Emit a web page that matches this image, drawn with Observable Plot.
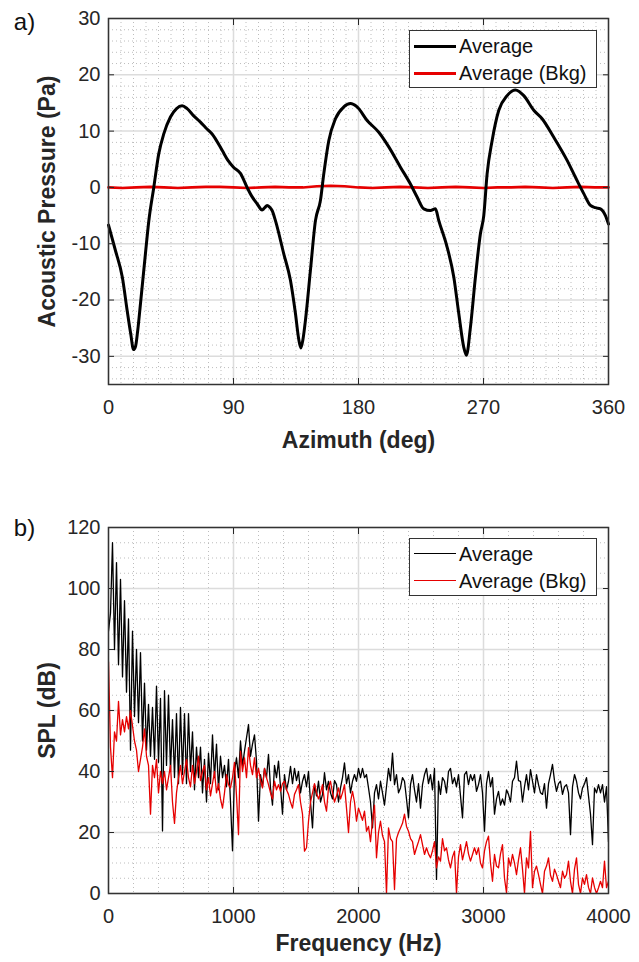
<!DOCTYPE html>
<html><head><meta charset="utf-8">
<script src="https://cdn.jsdelivr.net/npm/d3@7"></script>
<script src="https://cdn.jsdelivr.net/npm/@observablehq/plot@0.6"></script>
<style>
body{margin:0;background:#fff;font-family:"Liberation Sans",Arial,sans-serif;}
#wrap{position:relative;width:639px;height:962px;overflow:hidden;}
.panel{position:absolute;left:0;}
.panel svg{display:block;}
.legend{position:absolute;border:1.5px solid #333;background:#fff;box-sizing:border-box;font-size:20px;color:#111;}
.legend .row{position:absolute;left:0;height:27px;line-height:27px;white-space:nowrap;}
.legend .sw{position:absolute;left:4px;top:13px;width:42px;}
.legend .lab{position:absolute;left:49px;top:0;}
</style></head><body>
<div id="wrap">
  <div class="panel" id="pa" style="top:0"></div>
  <div class="panel" id="pb" style="top:470px"></div>
</div>
<script>
// ---------- Panel a) : acoustic pressure vs azimuth ----------
const azimuthAvg = [0,5,10,13.4,16,18,19.5,21,23,26.5,29,32.6,36.2,39.8,44.6,49,53,56.6,61,66.2,70,74.6,81.8,86,90,95,99.8,103,107,110.6,112.5,114.2,116,117.8,120.2,126.2,131,134.6,137,138.5,140,141.8,145.4,149,152.6,155,158.6,163.4,169.4,174.2,179,186.2,194.6,201.8,210.2,217.4,222.2,227,231.8,235.4,237.8,243.8,248.6,252.2,255.8,257.7,260.6,264.2,267.8,270.2,272.6,276.2,281,287,293,299,306.2,312.2,320.6,330.2,337.4,342.2,347,350.6,354.2,357.8,360];
const pressureAvg = [-6.7,-11.2,-16,-21.8,-26,-28.8,-28.2,-25.5,-20.7,-12,-6,0,6,9.5,12.5,14,14.5,14,12.8,11.6,10.6,9.5,6.6,4.8,3.6,2.5,0,-1.5,-2.9,-4,-3.6,-3.2,-3.5,-4.1,-5.9,-11.8,-16.5,-22.4,-27,-28.5,-27,-23.6,-14.7,-5.9,-2.3,2.4,8.3,12.2,14.3,14.9,14.3,11.9,9.8,7.2,3.6,0.6,-1.7,-3.8,-4.1,-3.8,-5.9,-10.6,-15.9,-22.4,-28.4,-29.8,-24.8,-15.9,-8.2,-5,2.4,8.3,13.7,16.3,17.3,16.3,13.7,12.2,8.9,4.8,1.2,-1.1,-3.2,-3.6,-3.8,-5,-6.5];
const azimuthBkg = [0,10,20,30,40,50,60,70,80,90,100,110,120,130,140,150,160,170,180,190,200,210,220,230,240,250,260,270,280,290,300,310,320,330,340,350,360];
const pressureBkg = [0,-0.1,0,0.1,0,-0.1,0,0.1,0.1,0,-0.1,0,0.1,0,0,0.2,0.3,0.2,0,-0.1,0,0.1,0,-0.1,0,0.1,0,-0.1,0,0,0.1,0,-0.1,0,0.1,0,0];
const azTicks = [0,90,180,270,360];
const azMinor = [9,18,27,36,45,54,63,72,81,99,108,117,126,135,144,153,162,171,189,198,207,216,225,234,243,252,261,279,288,297,306,315,324,333,342,351];
const pTicks = [-30,-20,-10,0,10,20,30];
const pMinor = [-34,-32,-28,-26,-24,-22,-18,-16,-14,-12,-8,-6,-4,-2,2,4,6,8,12,14,16,18,22,24,26,28];

// ---------- Panel b) : SPL spectrum ----------
const freqStep = 16; // Hz per bin
const splAvg = [
86,92,115,80,108.5,75,103,71,96,66,
90,47,86,58,80,56,79,50,69,47,
62,45,61,44,68,43,64,20.5,66.5,42,
65,40,57,38,59,36,61,39,59,36,
59,40,53,34,48,38,48,33,44,30,
46,36,52,38,49,34,45,38,42,35,
44,30,14,40,44.5,38,50,42,46.7,51,
55.4,45,49,52,43.4,23.7,39,35,41,38,
45.6,34.6,29,42,38,43.4,35,26,39,34,
36.8,41.7,36,41,37,40,33,36.8,39,35,
40,30,21.5,35.7,32,36.8,30,32.5,39.6,34,
36.8,33,31,37,35.7,30,34.6,38,42.8,36,
39,33,36.8,39,36.8,41,38,41,38,39,
34.6,30,21.5,33,35.7,31,36.8,33,29,35,
41,37,46,35.7,39,33,34.6,38,36.8,31,
24.8,35.7,39,34,30,36,28,35.7,39,41,
36,39,34,41,4.6,36.8,32.5,38,36.8,33,
40,41,36,38,35,39,32,24.8,39,40,
35.7,39,37,39,33.5,35.7,39,33,20.4,36,
40,35,38,26,31,33.5,29,31,29,34,
32.5,30,36.8,38,43.4,37,36.8,30,35,39,
34,40.6,36.8,33,39,35.7,33,32.5,36,28,
36,39,42.3,37,33.5,36,36.8,32.5,35,35.7,
33,19.3,35,39,36.8,33,31,34.6,36,38,
32,26,16,34.6,33,35.7,33,35.7,30,35,
17];
const splBkg = [
76,48,38,53,50,63,52,57,53,58,
54,60,55,50,47,40,44,48,54,45,
42,26,42,38,44,33,40,36,40,34,
38,42,30,23,33,38,42,36,40,44,
38,35,42,36,40,45,37,40,42,34,
38,32,36,40,33,36,31,28,33,39,
35.7,34.6,38,43,32,19.3,46.7,40,44.5,38,
47.8,42,39,44.5,38,41,37,34.6,41,38,
35.7,33,31,36.8,34,35.7,33.5,36,36.8,34,
32.5,30,28,32.5,34,35.7,30,26,13.9,15,
23.7,30,33,36,33,31,33,35.7,30,27,
34.6,36.8,33,30,32,34.6,31,33,35.7,28,
20,30,33.5,30,23.7,28,26,24,27,20.4,
22,17,24,29,11.7,20,23.7,19,17,0,
21.5,18,17,1.3,18,20,21.5,23,26,22,
20.4,18,17,12.8,15,17,19.3,16,12.8,15,
13,11.7,14,17,8.4,12,10.6,18,14,15,
11,8.4,12,13.9,0,12,16,11,13.9,17,
13,10.6,12.8,15,12.8,15,10,8.4,14,17,
18.8,10,4,12.8,9,8.4,13,16,5,0.2,
11.7,9,12.8,10,6.2,11,15,8,0,11.7,
8.4,20.4,1.9,7.3,9,6.2,3,0,7.3,9,
11.7,6,4,8,6.2,4,1.9,7.3,5,6.2,
10.6,4,0,8,11.7,3,0,5.1,3,6.2,
2,0,5.1,2,0,1.9,4,1.9,10.6,1.9,
4];
const fTicks = [0,1000,2000,3000,4000];
const fMinor = [200,400,600,800,1200,1400,1600,1800,2200,2400,2600,2800,3200,3400,3600,3800];
const splTicks = [0,20,40,60,80,100,120];
const splMinor = [5,10,15,25,30,35,45,50,55,65,70,75,85,90,95,105,110,115];

const seriesNames = ["Average","Average (Bkg)"];
const seriesColors = ["#000000","#e60000"];

// ---------- build ----------
const INK = "#262626";
const FONT = "Liberation Sans, Arial, sans-serif";

function minorGrid(xm, ym){
  return [
    Plot.gridX(xm, {stroke:"#bdbdbd", strokeOpacity:1, strokeWidth:1, strokeDasharray:"1,3"}),
    Plot.gridY(ym, {stroke:"#bdbdbd", strokeOpacity:1, strokeWidth:1, strokeDasharray:"1,3"})
  ];
}
function majorGrid(xt, yt){
  return [
    Plot.gridX(xt, {stroke:"#dcdcdc", strokeOpacity:1, strokeWidth:1.5}),
    Plot.gridY(yt, {stroke:"#dcdcdc", strokeOpacity:1, strokeWidth:1.5})
  ];
}
function axes(xt, yt){
  return [
    Plot.axisX(xt, {anchor:"bottom", tickSize:-6, tickFormat:()=>"", label:null, stroke:INK}),
    Plot.axisX(xt, {anchor:"top", tickSize:-6, tickFormat:()=>"", label:null, stroke:INK}),
    Plot.axisY(yt, {anchor:"left", tickSize:-6, tickFormat:()=>"", label:null, stroke:INK}),
    Plot.axisY(yt, {anchor:"right", tickSize:-6, tickFormat:()=>"", label:null, stroke:INK}),
    Plot.axisX(xt, {anchor:"bottom", tickSize:0, tickPadding:15, label:null, fontSize:20, fill:INK, tickFormat:d=>String(d)}),
    Plot.axisY(yt, {anchor:"left", tickSize:0, tickPadding:8, label:null, fontSize:20, fill:INK, tickFormat:d=>String(d)}),
    Plot.frame({stroke:"#333", strokeWidth:1.5})
  ];
}
function titles(xLabel, yLabel, tag, xdy, tagdy){
  return [
    Plot.text([xLabel], {text:d=>d, frameAnchor:"bottom", dy:xdy, textAnchor:"middle", lineAnchor:"middle", fontSize:23, fontWeight:"bold", fill:INK}),
    Plot.text([yLabel], {text:d=>d, frameAnchor:"left", dx:-61, rotate:-90, textAnchor:"middle", lineAnchor:"middle", fontSize:23, fontWeight:"bold", fill:INK}),
    Plot.text([tag], {text:d=>d, frameAnchor:"top-left", dx:-84, dy:tagdy, textAnchor:"middle", lineAnchor:"middle", fontSize:24, fill:"#111"})
  ];
}

const dataA = azimuthAvg.map((a,i)=>({az:a, p:pressureAvg[i]}));
const dataAB = azimuthBkg.map((a,i)=>({az:a, p:pressureBkg[i]}));

const chartA = Plot.plot({
  width:639, height:470,
  marginLeft:108, marginRight:31, marginTop:18, marginBottom:86,
  style:{fontFamily:FONT, fontSize:"20px", background:"#fff", overflow:"visible"},
  x:{domain:[0,360]},
  y:{domain:[-35,30]},
  marks:[
    ...minorGrid(azMinor, pMinor),
    ...majorGrid(azTicks, pTicks),
    Plot.line(dataAB, {x:"az", y:"p", stroke:seriesColors[1], strokeWidth:2.6}),
    Plot.line(dataA, {x:"az", y:"p", stroke:seriesColors[0], strokeWidth:3, curve:"monotone-x"}),
    ...axes(azTicks, pTicks),
    ...titles("Azimuth (deg)", "Acoustic Pressure (Pa)", "a)", 56, 4)
  ]
});
document.getElementById("pa").appendChild(chartA);

const dataB = splAvg.map((v,i)=>({f:i*freqStep, v}));
const dataBB = splBkg.map((v,i)=>({f:i*freqStep, v}));

const chartB = Plot.plot({
  width:639, height:492,
  marginLeft:108, marginRight:31, marginTop:57, marginBottom:69,
  style:{fontFamily:FONT, fontSize:"20px", background:"#fff", overflow:"visible"},
  x:{domain:[0,4000]},
  y:{domain:[0,120]},
  marks:[
    ...minorGrid(fMinor, splMinor),
    ...majorGrid(fTicks, splTicks),
    Plot.line(dataB, {x:"f", y:"v", stroke:seriesColors[0], strokeWidth:1.3, clip:true}),
    Plot.line(dataBB, {x:"f", y:"v", stroke:seriesColors[1], strokeWidth:1.3, clip:true}),
    ...axes(fTicks, splTicks),
    ...titles("Frequency (Hz)", "SPL (dB)", "b)", 50, 1)
  ]
});
document.getElementById("pb").appendChild(chartB);

// ---------- legends ----------
function legend(top, lw){
  const box = document.createElement("div");
  box.className = "legend";
  Object.assign(box.style, {left:"409px", top:top+"px", width:"188px", height:"58px"});
  seriesNames.forEach((name,i)=>{
    const row = document.createElement("div");
    row.className = "row";
    row.style.top = (1.5 + i*27) + "px";
    const sw = document.createElement("span");
    sw.className = "sw";
    sw.style.borderTop = lw + "px solid " + seriesColors[i];
    sw.style.top = (13.5 - lw/2) + "px";
    const lab = document.createElement("span");
    lab.className = "lab";
    lab.textContent = name;
    row.appendChild(sw); row.appendChild(lab);
    box.appendChild(row);
  });
  document.getElementById("wrap").appendChild(box);
}
legend(30, 3);
legend(538, 1.3);
</script>
</body></html>
